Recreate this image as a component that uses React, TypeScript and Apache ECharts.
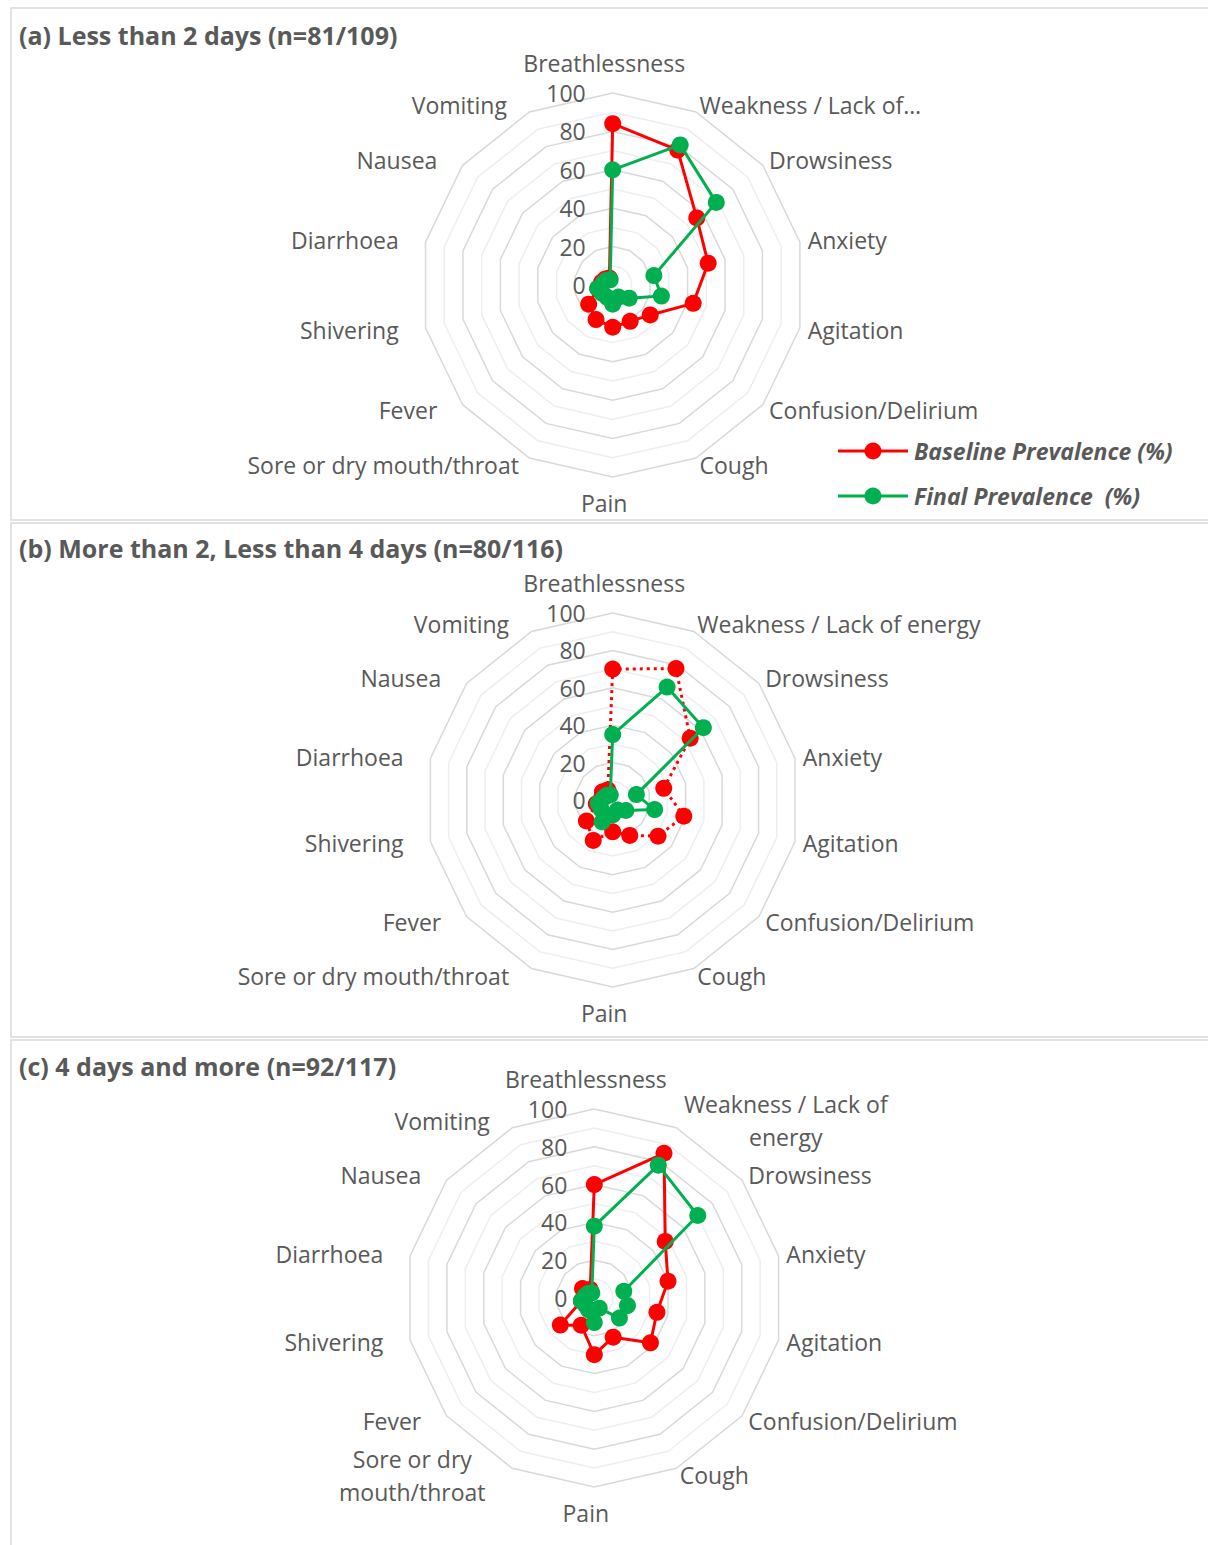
import React, { useEffect, useRef } from 'react';
import * as echarts from 'echarts';

// ---------- data (clockwise order from the top) ----------
const categoriesA = [
  'Breathlessness', 'Weakness / Lack of…', 'Drowsiness', 'Anxiety', 'Agitation',
  'Confusion/Delirium', 'Cough', 'Pain', 'Sore or dry mouth/throat', 'Fever',
  'Shivering', 'Diarrhoea', 'Nausea', 'Vomiting',
];
const categoriesB = [
  'Breathlessness', 'Weakness / Lack of energy', 'Drowsiness', 'Anxiety', 'Agitation',
  'Confusion/Delirium', 'Cough', 'Pain', 'Sore or dry mouth/throat', 'Fever',
  'Shivering', 'Diarrhoea', 'Nausea', 'Vomiting',
];
const categoriesC = [
  'Breathlessness', 'Weakness / Lack of\nenergy', 'Drowsiness', 'Anxiety', 'Agitation',
  'Confusion/Delirium', 'Cough', 'Pain', 'Sore or dry\nmouth/throat', 'Fever',
  'Shivering', 'Diarrhoea', 'Nausea', 'Vomiting',
];

const baselineA = [84, 78, 56, 51, 43, 25, 21, 22, 20, 16, 8, 6, 5, 4];
const finalA = [60, 81, 69, 22, 26, 11, 7, 10, 7, 7, 8, 5, 4, 3];

const baselineB = [70, 78, 53, 28, 39, 31, 21, 17, 24, 18, 9, 6, 7, 6];
const finalB = [35, 67, 62, 13, 23, 9, 6, 8, 13, 8, 8, 5, 4, 3];

const baselineC = [60, 85, 48, 40, 34, 38, 23, 30, 16, 23, 7, 5, 8, 5];
const finalC = [38, 78, 70, 16, 18, 17, 6, 13, 7, 6, 7, 5, 4, 3];

const tickValues = [0, 20, 40, 60, 80, 100];

const titles = [
  '(a) Less than 2 days (n=81/109)',
  '(b) More than 2, Less than 4 days (n=80/116)',
  '(c) 4 days and more (n=92/117)',
];
const seriesNames = ['Baseline Prevalence (%)', 'Final Prevalence  (%)'];

// ---------- layout / style ----------
const RED = '#FF0000';
const GREEN = '#00B050';
const TEXT = '#595959';
const FONT = '"Open Sans", "Noto Sans", sans-serif';
const LABEL_SIZE = 23;

const panels = [
  { y: 8, h: 512, center: [612.7, 285], radius: 192, leftPad: [19, 7], dotted: false },
  { y: 523, h: 514, center: [612.7, 800], radius: 187, leftPad: [19, 19], dotted: true },
  { y: 1040, h: 520, center: [594.3, 1298], radius: 189, leftPad: [19, 19], dotted: false },
];
const titleY = [35, 548, 1066];

// ECharts radar runs counter-clockwise; reorder so categories run clockwise.
function toCCW<T>(arr: T[]): T[] {
  return arr.map((_, k) => arr[(arr.length - k) % arr.length]);
}

function buildIndicators(names: string[], panel: any) {
  const inds = names.map((name, i) => {
    let nameGap = 8;
    let padding: number[] = [0, 0, 0, 0];
    if (i === 0) {
      nameGap = 18;
      padding = [0, 17, 0, 0];
    } else if (i === 7) {
      nameGap = 14;
      padding = [0, 17, 0, 0];
    } else if (i === 8) {
      padding = [0, panel.leftPad[1], 0, 0];
    } else if (i > 8) {
      padding = [0, panel.leftPad[0], 0, 0];
    }
    const ind: any = {
      name,
      min: 0,
      max: 100,
      nameGap,
      nameTextStyle: { padding },
    };
    if (i === 0) ind.axisLabel = { show: true };
    return ind;
  });
  return toCCW(inds);
}

export default function App() {
  const ref = useRef<HTMLDivElement>(null);

  useEffect(() => {
    if (!ref.current) return;
    const chart = echarts.init(ref.current, undefined, { renderer: 'svg' });

    const allNames = [categoriesA, categoriesB, categoriesC];
    const baselines = [baselineA, baselineB, baselineC];
    const finals = [finalA, finalB, finalC];

    const radar = panels.map((p, k) => ({
      center: p.center,
      radius: p.radius,
      startAngle: 90,
      splitNumber: 10,
      shape: 'polygon',
      indicator: buildIndicators(allNames[k], p),
      axisName: {
        color: TEXT,
        fontSize: LABEL_SIZE,
        fontFamily: FONT,
        lineHeight: 24,
        formatter: (name: string) => {
          if (!name.includes('\n')) return name;
          const key = name.startsWith('Weak') ? 'w1' : 'w2';
          return name.split('\n').map((l) => `{${key}|${l}}`).join('\n');
        },
        rich: {
          w1: { width: 212, align: 'center', color: TEXT, fontSize: LABEL_SIZE, fontFamily: FONT, lineHeight: 33 },
          w2: { width: 155, align: 'center', color: TEXT, fontSize: LABEL_SIZE, fontFamily: FONT, lineHeight: 33 },
        },
      },
      axisLine: { show: false },
      axisTick: { show: false },
      splitArea: { show: false },
      splitLine: { lineStyle: { color: ['#d9d9d9', '#eeeeee'], width: 1.5 } },
      axisLabel: {
        show: false,
        color: TEXT,
        fontSize: LABEL_SIZE,
        fontFamily: FONT,
        lineHeight: 24,
        margin: 27,
        formatter: (v: number) => (tickValues.includes(Math.round(v)) ? String(Math.round(v)) : ''),
      },
    }));

    const series: any[] = [];
    panels.forEach((p, k) => {
      series.push({
        type: 'radar',
        name: seriesNames[0],
        radarIndex: k,
        symbol: 'circle',
        symbolSize: 17,
        lineStyle: { color: RED, width: 3, type: p.dotted ? [3, 4] : 'solid' },
        itemStyle: { color: RED },
        data: [{ value: toCCW(baselines[k]), name: seriesNames[0] }],
        z: 2,
      });
      series.push({
        type: 'radar',
        name: seriesNames[1],
        radarIndex: k,
        symbol: 'circle',
        symbolSize: 17,
        lineStyle: { color: GREEN, width: 3 },
        itemStyle: { color: GREEN },
        data: [{ value: toCCW(finals[k]), name: seriesNames[1] }],
        z: 3,
      });
    });

    const graphic: any[] = [];
    panels.forEach((p, k) => {
      graphic.push({
        type: 'rect',
        shape: { x: 11, y: p.y, width: 1215, height: p.h },
        style: { fill: 'none', stroke: '#d9d9d9', lineWidth: 1.5 },
        z: -1,
      });
      graphic.push({
        type: 'text',
        x: 19,
        y: titleY[k],
        style: {
          text: titles[k],
          fill: TEXT,
          font: `bold 25px ${FONT}`,
          verticalAlign: 'middle',
          textAlign: 'left',
        },
      });
    });
    const legendRows = [
      { y: 451, color: RED, text: seriesNames[0] },
      { y: 496, color: GREEN, text: seriesNames[1] },
    ];
    legendRows.forEach((r) => {
      graphic.push({
        type: 'line',
        shape: { x1: 838, y1: r.y, x2: 908, y2: r.y },
        style: { stroke: r.color, lineWidth: 3 },
      });
      graphic.push({
        type: 'circle',
        shape: { cx: 873, cy: r.y, r: 8.5 },
        style: { fill: r.color },
      });
      graphic.push({
        type: 'text',
        x: 914,
        y: r.y,
        style: {
          text: r.text,
          fill: TEXT,
          font: `italic bold 23px ${FONT}`,
          verticalAlign: 'middle',
          textAlign: 'left',
        },
      });
    });

    chart.setOption({
      animation: false,
      backgroundColor: '#ffffff',
      radar,
      series,
      graphic,
    });

    return () => chart.dispose();
  }, []);

  return (
    <div
      ref={ref}
      style={{ position: 'absolute', left: 0, top: 0, width: 1208, height: 1545, background: '#fff' }}
    />
  );
}
